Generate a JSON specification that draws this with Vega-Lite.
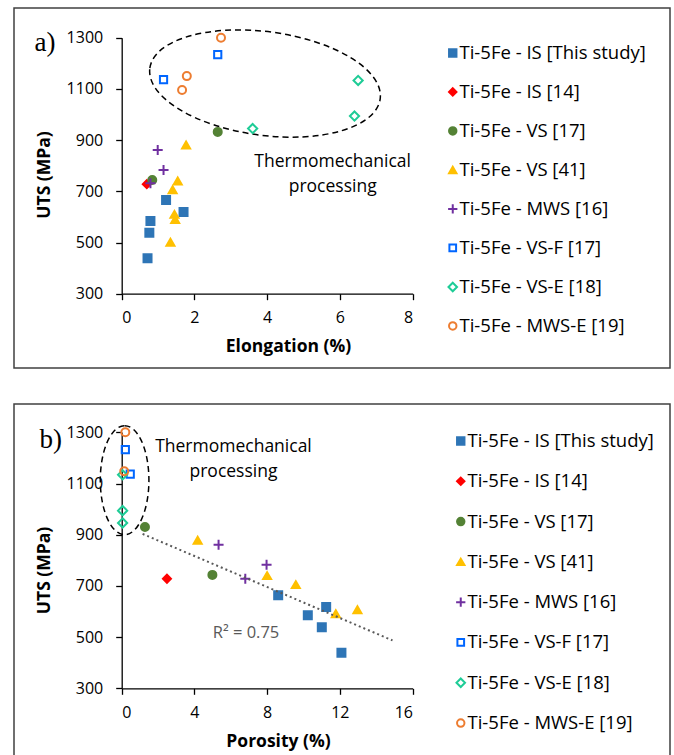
{
  "$schema": "https://vega.github.io/schema/vega-lite/v6.json",
  "background": "white",
  "padding": {"left": 13, "top": 7, "right": 0, "bottom": 0},
  "spacing": 34,
  "config": {
    "view": {"stroke": "#404040", "strokeWidth": 1.5},
    "font": "Open Sans",
    "axis": {
      "grid": false,
      "domainColor": "black", "domainWidth": 1.3,
      "tickColor": "black", "tickWidth": 1.3, "tickSize": 6,
      "labelFont": "Open Sans", "labelFontSize": 16, "labelColor": "black", "format": "d",
      "titleFont": "Open Sans", "titleFontSize": 17.5, "titleFontWeight": "bold", "titleColor": "black"
    },
    "legend": {
      "labelFont": "Open Sans", "labelFontSize": 18.5, "labelColor": "black", "labelLimit": 400,
      "symbolSize": 55, "symbolStrokeWidth": 2, "labelOffset": -2.5, "padding": 0
    }
  },
  "datasets": {
    "pa": [
      {"series": "Ti-5Fe - IS [This study]", "x": 0.71, "y": 438},
      {"series": "Ti-5Fe - IS [This study]", "x": 0.76, "y": 538},
      {"series": "Ti-5Fe - IS [This study]", "x": 0.79, "y": 584},
      {"series": "Ti-5Fe - IS [This study]", "x": 1.22, "y": 666},
      {"series": "Ti-5Fe - IS [This study]", "x": 1.70, "y": 619},
      {"series": "Ti-5Fe - IS [14]", "x": 0.69, "y": 728},
      {"series": "Ti-5Fe - VS [17]", "x": 0.84, "y": 744},
      {"series": "Ti-5Fe - VS [17]", "x": 2.64, "y": 932},
      {"series": "Ti-5Fe - VS [41]", "x": 1.77, "y": 881},
      {"series": "Ti-5Fe - VS [41]", "x": 1.54, "y": 740},
      {"series": "Ti-5Fe - VS [41]", "x": 1.40, "y": 706},
      {"series": "Ti-5Fe - VS [41]", "x": 1.45, "y": 610},
      {"series": "Ti-5Fe - VS [41]", "x": 1.47, "y": 590},
      {"series": "Ti-5Fe - VS [41]", "x": 1.34, "y": 501},
      {"series": "Ti-5Fe - MWS [16]", "x": 0.99, "y": 861},
      {"series": "Ti-5Fe - MWS [16]", "x": 1.15, "y": 783},
      {"series": "Ti-5Fe - MWS [16]", "x": 0.79, "y": 731},
      {"series": "Ti-5Fe - VS-F [17]", "x": 1.15, "y": 1136},
      {"series": "Ti-5Fe - VS-F [17]", "x": 2.64, "y": 1234},
      {"series": "Ti-5Fe - VS-E [18]", "x": 3.60, "y": 945},
      {"series": "Ti-5Fe - VS-E [18]", "x": 6.40, "y": 994},
      {"series": "Ti-5Fe - VS-E [18]", "x": 6.50, "y": 1133},
      {"series": "Ti-5Fe - MWS-E [19]", "x": 2.73, "y": 1300},
      {"series": "Ti-5Fe - MWS-E [19]", "x": 1.79, "y": 1150},
      {"series": "Ti-5Fe - MWS-E [19]", "x": 1.66, "y": 1096}
    ],
    "pb": [
      {"series": "Ti-5Fe - IS [This study]", "x": 8.61, "y": 663},
      {"series": "Ti-5Fe - IS [This study]", "x": 10.24, "y": 585},
      {"series": "Ti-5Fe - IS [This study]", "x": 11.25, "y": 618},
      {"series": "Ti-5Fe - IS [This study]", "x": 11.01, "y": 538},
      {"series": "Ti-5Fe - IS [This study]", "x": 12.09, "y": 439},
      {"series": "Ti-5Fe - IS [14]", "x": 2.49, "y": 728},
      {"series": "Ti-5Fe - VS [17]", "x": 1.28, "y": 930},
      {"series": "Ti-5Fe - VS [17]", "x": 4.99, "y": 743},
      {"series": "Ti-5Fe - VS [41]", "x": 4.18, "y": 878},
      {"series": "Ti-5Fe - VS [41]", "x": 8.0, "y": 740},
      {"series": "Ti-5Fe - VS [41]", "x": 9.58, "y": 705},
      {"series": "Ti-5Fe - VS [41]", "x": 11.78, "y": 591},
      {"series": "Ti-5Fe - VS [41]", "x": 12.97, "y": 607},
      {"series": "Ti-5Fe - MWS [16]", "x": 5.33, "y": 861},
      {"series": "Ti-5Fe - MWS [16]", "x": 7.97, "y": 783},
      {"series": "Ti-5Fe - MWS [16]", "x": 6.80, "y": 728},
      {"series": "Ti-5Fe - VS-F [17]", "x": 0.2, "y": 1232},
      {"series": "Ti-5Fe - VS-F [17]", "x": 0.47, "y": 1137},
      {"series": "Ti-5Fe - VS-E [18]", "x": 0.05, "y": 946},
      {"series": "Ti-5Fe - VS-E [18]", "x": 0.05, "y": 994},
      {"series": "Ti-5Fe - VS-E [18]", "x": 0.05, "y": 1134},
      {"series": "Ti-5Fe - MWS-E [19]", "x": 0.2, "y": 1300},
      {"series": "Ti-5Fe - MWS-E [19]", "x": 0.14, "y": 1148}
    ],
    "trend": [
      {"x": 1.15, "y": 903},
      {"x": 14.9, "y": 487}
    ],
    "ellA": [{"x": 3.94, "y": 1121}],
    "ellB": [{"x": 0.16, "y": 1113}],
    "txtA": [{"x": 5.8, "y": 795, "label": "Thermomechanical\nprocessing"}],
    "txtB": [{"x": 6.15, "y": 1223, "label": "Thermomechanical\nprocessing"}],
    "r2": [{"x": 6.84, "y": 497, "label": "R² = 0.75"}],
    "tagA": [{"x": -2.11, "y": 1248, "label": "a)"}],
    "tagB": [{"x": -3.91, "y": 1239, "label": "b)"}]
  },
  "resolve": {
    "scale": {"shape": "independent", "fill": "independent", "stroke": "independent"},
    "legend": {"shape": "independent", "fill": "independent", "stroke": "independent"}
  },
  "vconcat": [
    {
      "width": 656, "height": 360,
      "encoding": {
        "x": {"field": "x", "type": "quantitative",
              "scale": {"domain": [0, 8], "range": [107.7, 398.7], "nice": false, "zero": false},
              "axis": {"values": [0, 2, 4, 6, 8], "title": "Elongation (%)", "offset": -74.3, "labelPadding": 10, "titleX": 274, "titleY": 57.3, "titleBaseline": "alphabetic", "titleAlign": "center"}},
        "y": {"field": "y", "type": "quantitative",
              "scale": {"domain": [300, 1300], "range": [285.7, 29.7], "nice": false, "zero": false},
              "axis": {"values": [300, 500, 700, 900, 1100, 1300], "title": "UTS (MPa)", "offset": -107.7, "labelPadding": 13, "titleX": -77.7, "titleY": 166.5, "titleBaseline": "middle", "titleAlign": "center", "titleAngle": -90}}
      },
      "layer": [
        {
          "data": {"name": "ellA"},
          "mark": {"type": "point", "shape": "M-1,0A1,0.446 0 1,1 1,0A1,0.446 0 1,1 -1,0Z", "size": 54000, "angle": 7.6, "filled": false, "fill": "transparent", "stroke": "black", "strokeWidth": 1.5, "strokeDash": [6, 4], "opacity": 1}
        },
        {
          "data": {"name": "txtA"},
          "mark": {"type": "text", "font": "Open Sans", "fontSize": 17.5, "color": "black", "align": "center", "baseline": "alphabetic", "lineBreak": "\n", "lineHeight": 24.7},
          "encoding": {"text": {"field": "label"}}
        },
        {
          "data": {"name": "tagA"},
          "mark": {"type": "text", "font": "Liberation Serif", "fontSize": 27, "color": "black", "align": "center", "baseline": "alphabetic"},
          "encoding": {"text": {"field": "label"}}
        },
        {
          "data": {"name": "pa"},
          "mark": {"type": "point", "opacity": 1, "strokeWidth": 2, "size": 64},
          "encoding": {
            "shape": {"field": "series", "type": "nominal",
              "scale": {"domain": ["Ti-5Fe - IS [This study]", "Ti-5Fe - IS [14]", "Ti-5Fe - VS [17]", "Ti-5Fe - VS [41]", "Ti-5Fe - MWS [16]", "Ti-5Fe - VS-F [17]", "Ti-5Fe - VS-E [18]", "Ti-5Fe - MWS-E [19]"],
                        "range": ["square", "diamond", "circle", "triangle-up", "M-1.25,0H1.25M0,-1.25V1.25", "M-0.9,-0.9H0.9V0.9H-0.9Z", "M0,-1.15L1.15,0L0,1.15L-1.15,0Z", "circle"]},
              "legend": {"title": null, "orient": "none", "legendX": 429.5, "legendY": 35.7, "rowPadding": 20}},
            "fill": {"field": "series", "type": "nominal",
              "scale": {"domain": ["Ti-5Fe - IS [This study]", "Ti-5Fe - IS [14]", "Ti-5Fe - VS [17]", "Ti-5Fe - VS [41]", "Ti-5Fe - MWS [16]", "Ti-5Fe - VS-F [17]", "Ti-5Fe - VS-E [18]", "Ti-5Fe - MWS-E [19]"],
                        "range": ["#2E75B6", "#FF0000", "#548235", "#FFC000", "transparent", "transparent", "transparent", "transparent"]},
              "legend": {"title": null, "orient": "none", "legendX": 429.5, "legendY": 35.7, "rowPadding": 20}},
            "stroke": {"field": "series", "type": "nominal",
              "scale": {"domain": ["Ti-5Fe - IS [This study]", "Ti-5Fe - IS [14]", "Ti-5Fe - VS [17]", "Ti-5Fe - VS [41]", "Ti-5Fe - MWS [16]", "Ti-5Fe - VS-F [17]", "Ti-5Fe - VS-E [18]", "Ti-5Fe - MWS-E [19]"],
                        "range": ["#2E75B6", "#FF0000", "#548235", "#FFC000", "#7030A0", "#0066FF", "#1ECC96", "#ED7D31"]},
              "legend": {"title": null, "orient": "none", "legendX": 429.5, "legendY": 35.7, "rowPadding": 20}}
          }
        }
      ]
    },
    {
      "width": 656, "height": 360,
      "encoding": {
        "x": {"field": "x", "type": "quantitative",
              "scale": {"domain": [0, 16], "range": [107.7, 398.5], "nice": false, "zero": false},
              "axis": {"values": [0, 4, 8, 12, 16], "title": "Porosity (%)", "offset": -75.7, "labelPadding": 10, "titleX": 264, "titleY": 57.7, "titleBaseline": "alphabetic", "titleAlign": "center"}},
        "y": {"field": "y", "type": "quantitative",
              "scale": {"domain": [300, 1300], "range": [284.3, 28.3], "nice": false, "zero": false},
              "axis": {"values": [300, 500, 700, 900, 1100, 1300], "title": "UTS (MPa)", "offset": -107.7, "labelPadding": 13, "titleX": -77.7, "titleY": 166, "titleBaseline": "middle", "titleAlign": "center", "titleAngle": -90}}
      },
      "layer": [
        {
          "data": {"name": "ellB"},
          "mark": {"type": "point", "shape": "M-1,0A1,0.446 0 1,1 1,0A1,0.446 0 1,1 -1,0Z", "size": 11881, "angle": 90, "filled": false, "fill": "transparent", "stroke": "black", "strokeWidth": 1.5, "strokeDash": [6, 4], "opacity": 1}
        },
        {
          "data": {"name": "txtB"},
          "mark": {"type": "text", "font": "Open Sans", "fontSize": 17.5, "color": "black", "align": "center", "baseline": "alphabetic", "lineBreak": "\n", "lineHeight": 25.3},
          "encoding": {"text": {"field": "label"}}
        },
        {
          "data": {"name": "r2"},
          "mark": {"type": "text", "font": "Open Sans", "fontSize": 16.5, "color": "#595959", "align": "center", "baseline": "alphabetic"},
          "encoding": {"text": {"field": "label"}}
        },
        {
          "data": {"name": "tagB"},
          "mark": {"type": "text", "font": "Liberation Serif", "fontSize": 27, "color": "black", "align": "center", "baseline": "alphabetic"},
          "encoding": {"text": {"field": "label"}}
        },
        {
          "data": {"name": "pb"},
          "mark": {"type": "point", "opacity": 1, "strokeWidth": 2, "size": 64},
          "encoding": {
            "shape": {"field": "series", "type": "nominal",
              "scale": {"domain": ["Ti-5Fe - IS [This study]", "Ti-5Fe - IS [14]", "Ti-5Fe - VS [17]", "Ti-5Fe - VS [41]", "Ti-5Fe - MWS [16]", "Ti-5Fe - VS-F [17]", "Ti-5Fe - VS-E [18]", "Ti-5Fe - MWS-E [19]"],
                        "range": ["square", "diamond", "circle", "triangle-up", "M-1.25,0H1.25M0,-1.25V1.25", "M-0.9,-0.9H0.9V0.9H-0.9Z", "M0,-1.15L1.15,0L0,1.15L-1.15,0Z", "circle"]},
              "legend": {"title": null, "orient": "none", "legendX": 437.5, "legendY": 27.7, "rowPadding": 21.3}},
            "fill": {"field": "series", "type": "nominal",
              "scale": {"domain": ["Ti-5Fe - IS [This study]", "Ti-5Fe - IS [14]", "Ti-5Fe - VS [17]", "Ti-5Fe - VS [41]", "Ti-5Fe - MWS [16]", "Ti-5Fe - VS-F [17]", "Ti-5Fe - VS-E [18]", "Ti-5Fe - MWS-E [19]"],
                        "range": ["#2E75B6", "#FF0000", "#548235", "#FFC000", "transparent", "transparent", "transparent", "transparent"]},
              "legend": {"title": null, "orient": "none", "legendX": 437.5, "legendY": 27.7, "rowPadding": 21.3}},
            "stroke": {"field": "series", "type": "nominal",
              "scale": {"domain": ["Ti-5Fe - IS [This study]", "Ti-5Fe - IS [14]", "Ti-5Fe - VS [17]", "Ti-5Fe - VS [41]", "Ti-5Fe - MWS [16]", "Ti-5Fe - VS-F [17]", "Ti-5Fe - VS-E [18]", "Ti-5Fe - MWS-E [19]"],
                        "range": ["#2E75B6", "#FF0000", "#548235", "#FFC000", "#7030A0", "#0066FF", "#1ECC96", "#ED7D31"]},
              "legend": {"title": null, "orient": "none", "legendX": 437.5, "legendY": 27.7, "rowPadding": 21.3}}
          }
        },
        {
          "data": {"name": "trend"},
          "mark": {"type": "line", "color": "#595959", "strokeWidth": 2, "strokeDash": [2, 3]}
        }
      ]
    }
  ]
}
